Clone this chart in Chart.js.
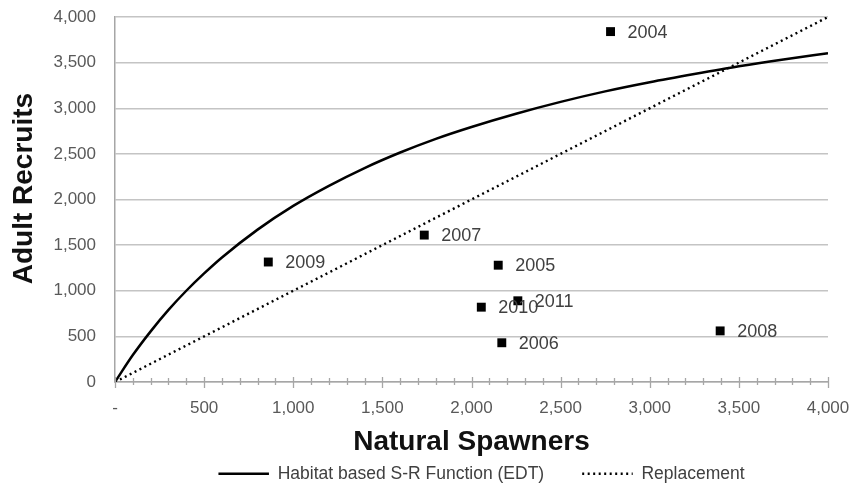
<!DOCTYPE html>
<html>
<head>
<meta charset="utf-8">
<title>Adult Recruits vs Natural Spawners</title>
<script src="https://cdn.jsdelivr.net/npm/chart.js@4/dist/chart.umd.min.js"></script>
<style>
  html, body { margin: 0; padding: 0; background: #fff; overflow: hidden; }
  #wrap { width: 853px; height: 487px; }
</style>
</head>
<body>
<div id="wrap"><canvas id="srChart" width="853" height="487"></canvas></div>
<script>
// Habitat based S-R function (EDT)
const curveSpawners = [0, 100, 200, 300, 400, 500, 600, 800, 1000, 1200, 1400, 1600, 1800, 2000, 2250, 2500, 2750, 3000, 3250, 3500, 3750, 4000];
const curveRecruits = [0, 295, 555, 790, 1000, 1190, 1365, 1670, 1930, 2150, 2345, 2515, 2665, 2795, 2940, 3070, 3185, 3285, 3375, 3460, 3535, 3602];

// replacement line (R = S)
const replacementSpawners = [0, 4000];
const replacementRecruits = [0, 4000];

// observed brood years
const years = ['2004', '2005', '2006', '2007', '2008', '2009', '2010', '2011'];
const obsSpawners = [2780, 2150, 2170, 1735, 3395, 860, 2055, 2260];
const obsRecruits = [3840, 1280, 430, 1610, 560, 1315, 820, 890];

// tick labels (every 500)
const xTickLabels = ['-', '500', '1,000', '1,500', '2,000', '2,500', '3,000', '3,500', '4,000'];
const yTickLabels = ['0', '500', '1,000', '1,500', '2,000', '2,500', '3,000', '3,500', '4,000'];

const FONT = "'Liberation Sans', Arial, sans-serif";
const AXIS_GREY = '#a6a6a6';

const toPoints = (xs, ys) => xs.map((x, i) => ({ x: x, y: ys[i] }));

// x axis tick marks: long ones every 500, short ones every 100, crossing the axis
const axisTicks = {
    id: 'axisTicks',
    afterDraw(chart) {
        const { ctx, chartArea } = chart;
        const xScale = chart.scales.x;
        ctx.save();
        ctx.strokeStyle = AXIS_GREY;
        ctx.lineWidth = 1.3;
        xScale.ticks.forEach(t => {
            const px = Math.round(xScale.getPixelForValue(t.value)) + 0.5;
            const major = t.value % 500 === 0;
            ctx.beginPath();
            ctx.moveTo(px, chartArea.bottom - (major ? 5 : 4));
            ctx.lineTo(px, chartArea.bottom + (major ? 6 : 3));
            ctx.stroke();
        });
        ctx.restore();
    }
};

// year labels to the right of each point
const yearLabels = {
    id: 'yearLabels',
    afterDatasetsDraw(chart) {
        const { ctx } = chart;
        const meta = chart.getDatasetMeta(2);
        ctx.save();
        ctx.font = '18px ' + FONT;
        ctx.fillStyle = '#404040';
        ctx.textAlign = 'left';
        ctx.textBaseline = 'middle';
        meta.data.forEach((pt, i) => {
            ctx.fillText(years[i], pt.x + 17, pt.y + 1);
        });
        ctx.restore();
    }
};

// nudge the legend a little lower / right, like the original
const legendNudge = {
    id: 'legendNudge',
    afterLayout(chart) {
        const lg = chart.legend;
        if (!lg) return;
        lg.top += 5.5;
        lg.bottom += 5.5;
        lg.left += 10;
        lg.right += 10;
    }
};

Chart.defaults.font.family = FONT;

const ctx = document.getElementById('srChart').getContext('2d');
const srChart = new Chart(ctx, {
    type: 'scatter',
    data: {
        datasets: [
            {
                label: 'Habitat based S-R Function (EDT)',
                data: toPoints(curveSpawners, curveRecruits),
                showLine: true,
                borderColor: '#000',
                backgroundColor: '#000',
                borderWidth: 2.5,
                pointRadius: 0,
                cubicInterpolationMode: 'monotone',
                order: 2
            },
            {
                label: 'Replacement',
                data: toPoints(replacementSpawners, replacementRecruits),
                showLine: true,
                borderColor: '#000',
                backgroundColor: '#000',
                borderWidth: 2.4,
                borderDash: [2, 3.5],
                pointRadius: 0,
                order: 3
            },
            {
                label: 'Observed',
                data: toPoints(obsSpawners, obsRecruits),
                pointStyle: 'rect',
                pointRadius: 6.3,
                pointHoverRadius: 6.3,
                backgroundColor: '#000',
                borderColor: '#000',
                borderWidth: 0,
                order: 1
            }
        ]
    },
    options: {
        responsive: false,
        animation: false,
        events: [],
        layout: {
            padding: { left: 4, right: 25, top: 17, bottom: 0 }
        },
        scales: {
            x: {
                type: 'linear',
                min: 0,
                max: 4000,
                afterFit: (scale) => {
                    scale.height = 74.5;
                    // the layout padding decides the plot edges
                    scale.paddingLeft = 0;
                    scale.paddingRight = 0;
                },
                ticks: {
                    stepSize: 100,
                    autoSkip: false,
                    maxRotation: 0,
                    padding: 16,
                    color: '#595959',
                    font: { size: 17 },
                    callback: (v) => (v % 500 === 0 ? xTickLabels[v / 500] : '')
                },
                grid: { drawOnChartArea: false, drawTicks: false },
                border: { display: true, color: AXIS_GREY, width: 1.5 },
                title: {
                    display: true,
                    text: 'Natural Spawners',
                    color: '#111',
                    font: { size: 28, weight: 'bold' },
                    padding: { top: 0, bottom: -3 }
                }
            },
            y: {
                type: 'linear',
                min: 0,
                max: 4000,
                afterFit: (scale) => {
                    scale.width = 111;
                    scale.paddingTop = 0;
                    scale.paddingBottom = 0;
                },
                ticks: {
                    stepSize: 500,
                    padding: 19,
                    color: '#595959',
                    font: { size: 17 },
                    callback: (v) => yTickLabels[v / 500]
                },
                grid: { color: '#c4c4c4', lineWidth: 1.5, drawTicks: false },
                border: { display: true, color: AXIS_GREY, width: 1.5 },
                title: {
                    display: true,
                    // leading space lifts the title a little above the axis middle
                    text: '\u2002 Adult Recruits',
                    color: '#111',
                    font: { size: 28, weight: 'bold' },
                    padding: { top: 3, bottom: 0 }
                }
            }
        },
        plugins: {
            tooltip: { enabled: false },
            legend: {
                display: true,
                position: 'bottom',
                fullSize: false,
                labels: {
                    boxWidth: 50.5,
                    boxHeight: 0,
                    padding: 3,
                    color: '#404040',
                    font: { size: 17.5 },
                    filter: (item) => item.datasetIndex !== 2,
                    generateLabels: (chart) => {
                        const items = Chart.defaults.plugins.legend.labels.generateLabels(chart);
                        // a bit of room between the two entries
                        return items.map(item => item.datasetIndex === 0 ? { ...item, text: item.text + '\u2003\u2003' } : item);
                    }
                }
            }
        }
    },
    plugins: [axisTicks, yearLabels, legendNudge]
});
</script>
</body>
</html>
